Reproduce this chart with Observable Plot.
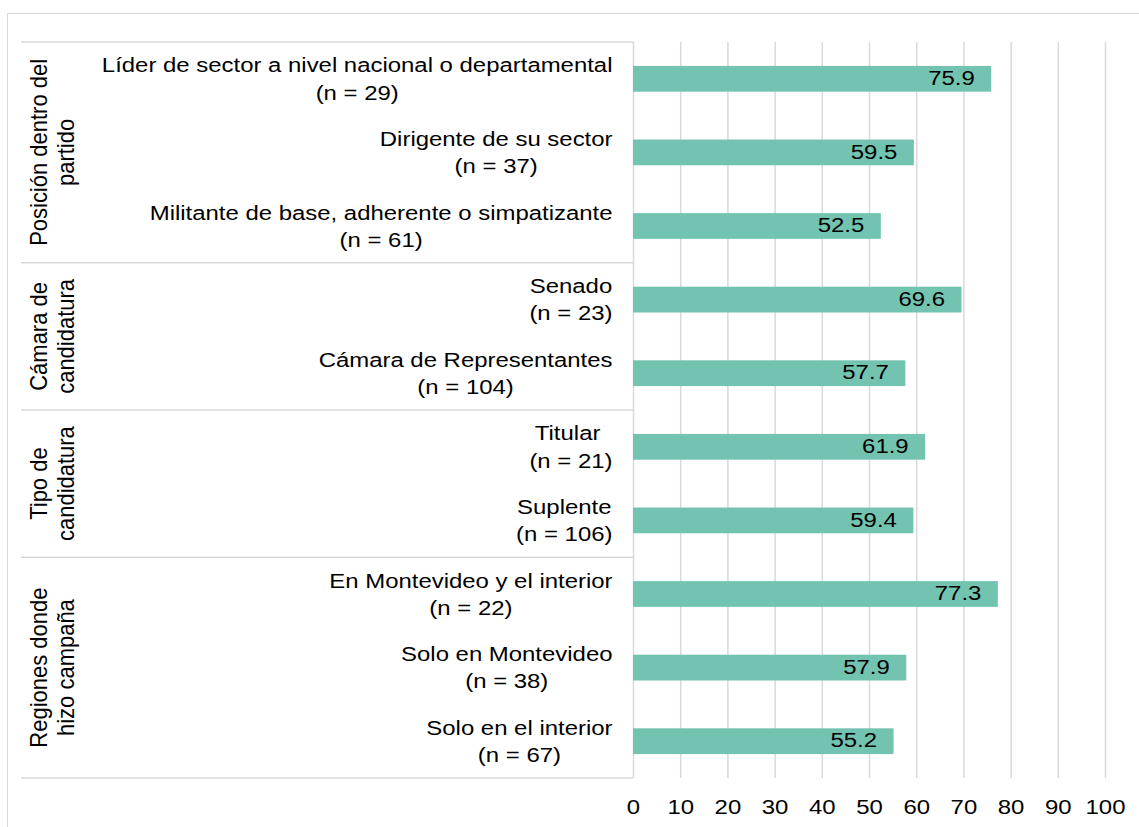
<!DOCTYPE html>
<html>
<head>
<meta charset="utf-8">
<script src="https://cdn.jsdelivr.net/npm/d3@7"></script>
<script src="https://cdn.jsdelivr.net/npm/@observablehq/plot@0.6"></script>
<style>
  html, body { margin: 0; padding: 0; background: #fff; }
  #chart { position: relative; width: 1139px; height: 827px; overflow: hidden; }
  #frame { position: absolute; left: 7px; top: 13px; width: 1200px; height: 900px;
           border-top: 1.5px solid #d9d9d9; border-left: 1.5px solid #d9d9d9; }
  #chart svg { position: absolute; left: 0; top: 0; }
</style>
</head>
<body>
<div id="chart"><div id="frame"></div></div>
<script>
// ---- data ----
const groups = ["Posición dentro del\npartido", "Cámara de\ncandidatura", "Tipo de\ncandidatura", "Regiones donde\nhizo campaña"];
const categories = [
  "Líder de sector a nivel nacional o departamental",
  "Dirigente de su sector",
  "Militante de base, adherente o simpatizante",
  "Senado",
  "Cámara de Representantes",
  "Titular\u00a0",
  "Suplente",
  "En Montevideo y el interior",
  "Solo en Montevideo",
  "Solo en el interior"
];
const sampleSizes = [29, 37, 61, 23, 104, 21, 106, 22, 38, 67];
const groupIndex = [0, 0, 0, 1, 1, 2, 2, 3, 3, 3];
const values = [75.9, 59.5, 52.5, 69.6, 57.7, 61.9, 59.4, 77.3, 57.9, 55.2];
const xTicks = [0, 10, 20, 30, 40, 50, 60, 70, 80, 90, 100];

const rows = categories.map((c, i) => ({
  key: c,
  label: c + "\n(n = " + sampleSizes[i] + ")",
  group: groupIndex[i],
  value: values[i]
}));

const font = "'Liberation Sans', Arial, sans-serif";
const grey = "#d9d9d9";
const barColor = "#72c3b0";
const stretch = 1.14;

const plot = Plot.plot({
  width: 1139,
  height: 827,
  marginLeft: 633,
  marginRight: 34,
  marginTop: 42,
  marginBottom: 49,
  style: { fontFamily: font, fontSize: "21px", color: "#000", background: "transparent" },
  x: { domain: [0, 100], axis: null },
  y: { domain: categories, axis: null, paddingInner: 0.65, paddingOuter: 0.325, round: false },
  marks: [
    Plot.ruleX(xTicks, { stroke: grey, strokeWidth: 1.5 }),
    Plot.axisX(xTicks, { tickSize: 0, tickPadding: 21, fontSize: 21, fill: "#000", label: null, tickFormat: d => d }),
    Plot.barX(rows, { x: "value", y: "key", fill: barColor }),
    Plot.text(rows, { x: "value", y: "key", text: d => d.value.toFixed(1), textAnchor: "end", dx: -17, dy: -1, fontSize: 21, fill: "#000" }),
    Plot.text(rows, { x: 0, y: "key", text: "label", textAnchor: "middle", dx: -21, dy: -2, lineHeight: 1.29, fontSize: 21, fill: "#000", ariaLabel: "catlabel" })
  ]
});

document.getElementById("chart").appendChild(plot);

const svg = d3.select(plot);
// widen glyphs horizontally to match the reference's rendering
svg.selectAll("text").each(function () {
  const t = this.getAttribute("transform") || "";
  this.setAttribute("transform", (t + ` scale(${stretch},1)`).trim());
});

// category labels: block right-aligned, lines centred within the block
let catTexts = svg.selectAll('g[aria-label="catlabel"] text');
if (catTexts.empty()) {
  const gs = svg.selectAll('g[aria-label="text"]').nodes();
  catTexts = d3.select(gs[gs.length - 1]).selectAll("text");
}
catTexts.each(function () {
  const spans = this.querySelectorAll("tspan");
  let w = 0;
  if (spans.length) spans.forEach(s => { w = Math.max(w, s.getComputedTextLength()); });
  else w = this.getComputedTextLength();
  const t = this.getAttribute("transform") || "";
  const shift = -w * stretch / 2;
  this.setAttribute("transform", t.replace(/scale\(/, `translate(${shift},0) scale(`));
});

// table-like separators and rotated group labels derived from the scales
const ys = plot.scale("y");
const xs = plot.scale("x");
const x0 = xs.apply(0);
const center = k => ys.apply(k) + ys.bandwidth / 2;
const half = ys.step / 2;

const bounds = [];
groups.forEach((g, gi) => {
  const members = rows.filter(r => r.group === gi);
  const top = center(members[0].key) - half;
  const bottom = center(members[members.length - 1].key) + half;
  bounds.push(top);
  if (gi === groups.length - 1) bounds.push(bottom);
  const cy = (top + bottom) / 2;
  const lines = g.split("\n");
  const t = svg.append("text")
    .attr("transform", `translate(52,${cy}) rotate(-90) scale(1,1.08)`)
    .attr("text-anchor", "middle")
    .attr("font-family", font)
    .attr("font-size", 22)
    .attr("fill", "#000");
  lines.forEach((ln, li) => {
    t.append("tspan")
      .attr("x", 0)
      .attr("y", (li - (lines.length - 1) / 2) * 25)
      .attr("dy", "0.35em")
      .text(ln);
  });
});

const lg = svg.insert("g", ":first-child");
bounds.forEach(b => {
  lg.append("line").attr("x1", 21).attr("x2", x0).attr("y1", b).attr("y2", b)
    .attr("stroke", grey).attr("stroke-width", 1.5);
});
</script>
</body>
</html>
